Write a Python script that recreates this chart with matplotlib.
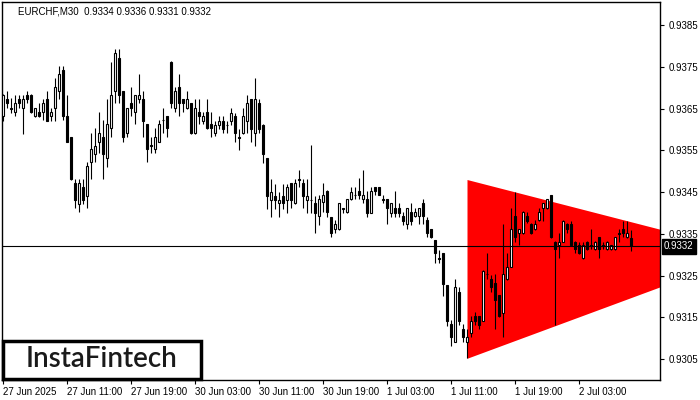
import matplotlib
matplotlib.use('Agg')
import matplotlib.pyplot as plt
import matplotlib.transforms as mtransforms
from matplotlib.patches import Rectangle
import numpy as np

title = 'EURCHF,M30  0.9334 0.9336 0.9331 0.9332'
last_price = 0.9332

opens = [0.93632, 0.93672, 0.93651, 0.93641, 0.93672, 0.93651, 0.93682, 0.93682, 0.93632, 0.93641,
         0.93641, 0.93672, 0.93631, 0.93651, 0.93692, 0.93742, 0.93632, 0.93581, 0.93471, 0.93421,
         0.93461, 0.93441, 0.93521, 0.93541, 0.93571, 0.93581, 0.93531, 0.93603, 0.93692, 0.93770,
         0.93692, 0.93591, 0.93663, 0.93641, 0.93672, 0.93672, 0.93612, 0.93562, 0.93552, 0.93571,
         0.93623, 0.93632, 0.93762, 0.93651, 0.93702, 0.93672, 0.93651, 0.93663, 0.93591, 0.93641,
         0.93621, 0.93641, 0.93612, 0.93591, 0.93611, 0.93620, 0.93611, 0.93620, 0.93631, 0.93581,
         0.93591, 0.93620, 0.93672, 0.93591, 0.93663, 0.93611, 0.93531, 0.93431, 0.93441, 0.93423,
         0.93441, 0.93431, 0.93471, 0.93423, 0.93481, 0.93471, 0.93431, 0.93431, 0.93423, 0.93393,
         0.93425, 0.93453, 0.93390, 0.93361, 0.93361, 0.93411, 0.93403, 0.93433, 0.93443, 0.93453,
         0.93433, 0.93433, 0.93401, 0.93461, 0.93461, 0.93433, 0.93433, 0.93401, 0.93411, 0.93411,
         0.93393, 0.93373, 0.93403, 0.93393, 0.93393, 0.93423, 0.93383, 0.93361, 0.93334, 0.93291,
         0.93303, 0.93227, 0.93134, 0.93092, 0.93211, 0.93121, 0.93092, 0.93112, 0.93153, 0.93153,
         0.93142, 0.93254, 0.93241, 0.93233, 0.93203, 0.93161, 0.93241, 0.93271, 0.93393, 0.93351,
         0.93351, 0.93393, 0.93374, 0.93361, 0.93383, 0.93411, 0.93411, 0.93443, 0.93331, 0.93323,
         0.93331, 0.93374, 0.93374, 0.93331, 0.93323, 0.93291, 0.93331, 0.93323, 0.93313, 0.93342,
         0.93323, 0.93313, 0.93313, 0.93313, 0.93351, 0.93361, 0.93342, 0.93340]
highs = [0.93685, 0.93692, 0.93675, 0.93682, 0.93682, 0.93682, 0.93692, 0.93684, 0.93652, 0.93663,
         0.93672, 0.93692, 0.93651, 0.93722, 0.93752, 0.93752, 0.93682, 0.93582, 0.93481, 0.93481,
         0.93481, 0.93523, 0.93591, 0.93603, 0.93642, 0.93623, 0.93672, 0.93762, 0.93792, 0.93792,
         0.93693, 0.93652, 0.93702, 0.93683, 0.93733, 0.93692, 0.93613, 0.93581, 0.93603, 0.93623,
         0.93651, 0.93633, 0.93763, 0.93702, 0.93733, 0.93673, 0.93692, 0.93664, 0.93672, 0.93672,
         0.93641, 0.93672, 0.93641, 0.93620, 0.93631, 0.93631, 0.93620, 0.93651, 0.93640, 0.93600,
         0.93651, 0.93682, 0.93673, 0.93722, 0.93672, 0.93612, 0.93532, 0.93481, 0.93469, 0.93451,
         0.93469, 0.93469, 0.93472, 0.93481, 0.93503, 0.93481, 0.93481, 0.93563, 0.93441, 0.93443,
         0.93472, 0.93454, 0.93391, 0.93383, 0.93424, 0.93412, 0.93434, 0.93463, 0.93463, 0.93483,
         0.93503, 0.93453, 0.93463, 0.93462, 0.93462, 0.93443, 0.93434, 0.93424, 0.93453, 0.93423,
         0.93403, 0.93412, 0.93423, 0.93411, 0.93412, 0.93433, 0.93391, 0.93362, 0.93335, 0.93311,
         0.93304, 0.93228, 0.93144, 0.93241, 0.93223, 0.93134, 0.93121, 0.93153, 0.93163, 0.93154,
         0.93263, 0.93303, 0.93251, 0.93254, 0.93204, 0.93374, 0.93303, 0.93411, 0.93451, 0.93362,
         0.93404, 0.93403, 0.93375, 0.93383, 0.93411, 0.93424, 0.93434, 0.93444, 0.93332, 0.93351,
         0.93382, 0.93375, 0.93381, 0.93332, 0.93331, 0.93331, 0.93332, 0.93361, 0.93332, 0.93343,
         0.93331, 0.93332, 0.93324, 0.93343, 0.93361, 0.93381, 0.93381, 0.93360]
lows = [0.93620, 0.93651, 0.93639, 0.93631, 0.93651, 0.93589, 0.93663, 0.93640, 0.93630, 0.93630,
        0.93623, 0.93620, 0.93621, 0.93621, 0.93672, 0.93623, 0.93570, 0.93480, 0.93411, 0.93402,
        0.93421, 0.93411, 0.93481, 0.93521, 0.93543, 0.93481, 0.93511, 0.93581, 0.93663, 0.93663,
        0.93571, 0.93581, 0.93631, 0.93612, 0.93663, 0.93581, 0.93521, 0.93543, 0.93543, 0.93570,
        0.93591, 0.93581, 0.93651, 0.93641, 0.93631, 0.93641, 0.93650, 0.93590, 0.93590, 0.93612,
        0.93612, 0.93602, 0.93581, 0.93583, 0.93600, 0.93591, 0.93591, 0.93611, 0.93571, 0.93551,
        0.93590, 0.93591, 0.93571, 0.93560, 0.93591, 0.93520, 0.93409, 0.93391, 0.93409, 0.93391,
        0.93409, 0.93401, 0.93411, 0.93422, 0.93461, 0.93411, 0.93401, 0.93401, 0.93351, 0.93371,
        0.93403, 0.93391, 0.93342, 0.93351, 0.93360, 0.93401, 0.93401, 0.93432, 0.93433, 0.93433,
        0.93423, 0.93391, 0.93400, 0.93443, 0.93442, 0.93423, 0.93373, 0.93391, 0.93391, 0.93391,
        0.93371, 0.93361, 0.93371, 0.93391, 0.93373, 0.93373, 0.93342, 0.93339, 0.93281, 0.93281,
        0.93201, 0.93129, 0.93081, 0.93091, 0.93132, 0.93092, 0.93052, 0.93102, 0.93132, 0.93121,
        0.93141, 0.93243, 0.93211, 0.93121, 0.93151, 0.93102, 0.93240, 0.93270, 0.93331, 0.93323,
        0.93350, 0.93375, 0.93350, 0.93360, 0.93381, 0.93381, 0.93410, 0.93341, 0.93132, 0.93291,
        0.93330, 0.93351, 0.93322, 0.93303, 0.93302, 0.93290, 0.93312, 0.93313, 0.93312, 0.93291,
        0.93313, 0.93312, 0.93312, 0.93312, 0.93331, 0.93342, 0.93341, 0.93310]
closes = [0.93682, 0.93663, 0.93650, 0.93663, 0.93663, 0.93672, 0.93672, 0.93641, 0.93651, 0.93632,
          0.93663, 0.93621, 0.93641, 0.93702, 0.93732, 0.93632, 0.93571, 0.93481, 0.93431, 0.93471,
          0.93431, 0.93512, 0.93552, 0.93561, 0.93591, 0.93541, 0.93612, 0.93682, 0.93782, 0.93682,
          0.93581, 0.93651, 0.93651, 0.93682, 0.93682, 0.93621, 0.93552, 0.93560, 0.93581, 0.93612,
          0.93622, 0.93603, 0.93663, 0.93692, 0.93663, 0.93663, 0.93672, 0.93591, 0.93651, 0.93631,
          0.93632, 0.93603, 0.93603, 0.93611, 0.93620, 0.93600, 0.93610, 0.93640, 0.93591, 0.93580,
          0.93631, 0.93663, 0.93600, 0.93672, 0.93600, 0.93540, 0.93441, 0.93451, 0.93431, 0.93431,
          0.93423, 0.93461, 0.93431, 0.93471, 0.93480, 0.93441, 0.93441, 0.93430, 0.93401, 0.93433,
          0.93443, 0.93403, 0.93351, 0.93373, 0.93423, 0.93410, 0.93433, 0.93451, 0.93442, 0.93443,
          0.93443, 0.93401, 0.93453, 0.93453, 0.93443, 0.93432, 0.93411, 0.93423, 0.93401, 0.93401,
          0.93381, 0.93411, 0.93381, 0.93403, 0.93411, 0.93393, 0.93351, 0.93342, 0.93303, 0.93290,
          0.93231, 0.93141, 0.93102, 0.93223, 0.93142, 0.93102, 0.93102, 0.93142, 0.93142, 0.93132,
          0.93262, 0.93253, 0.93222, 0.93191, 0.93153, 0.93254, 0.93271, 0.93361, 0.93342, 0.93361,
          0.93403, 0.93381, 0.93351, 0.93374, 0.93403, 0.93423, 0.93433, 0.93342, 0.93313, 0.93331,
          0.93381, 0.93361, 0.93323, 0.93313, 0.93303, 0.93323, 0.93313, 0.93322, 0.93331, 0.93313,
          0.93322, 0.93331, 0.93323, 0.93342, 0.93350, 0.93351, 0.93351, 0.93320]

xtick_pos = [0, 16, 32, 48, 64, 80, 96, 112, 128, 144]
xtick_labels = ['27 Jun 2025', '27 Jun 11:00', '27 Jun 19:00', '30 Jun 03:00', '30 Jun 11:00',
                '30 Jun 19:00', '1 Jul 03:00', '1 Jul 11:00', '1 Jul 19:00', '2 Jul 03:00']
ytick_vals = [0.9305, 0.9315, 0.9325, 0.9335, 0.9345, 0.9355, 0.9365, 0.9375, 0.9385]

# symmetrical triangle pattern
tri_x = [116, 164.25]
tri_top = [0.93480, 0.93361]
tri_bottom = [0.93052, 0.93223]

o = np.array(opens); h = np.array(highs); l = np.array(lows); c = np.array(closes)
idx = np.arange(len(o))

fig = plt.figure(figsize=(7, 4), dpi=100)
ax = fig.add_axes([2/700, 20/400, 658/700, 378/400])
ax.set_xlim(-0.25, 164.25)
ax.set_ylim(0.9300, 0.93905)

ax.fill_between(tri_x, tri_bottom, tri_top, color='#ff0000', lw=0, zorder=1)

ax.vlines(idx, l, h, color='black', lw=0.8, zorder=3)
up = c >= o
bb = np.minimum(o, c)
bh = np.abs(c - o)
ax.bar(idx[up], bh[up], bottom=bb[up], width=0.72, color='white', edgecolor='black', lw=0.8, zorder=4)
ax.bar(idx[~up], bh[~up], bottom=bb[~up], width=0.72, color='black', edgecolor='black', lw=0.8, zorder=4)

ax.axhline(last_price, color='black', lw=0.8, zorder=5)

for s in ax.spines.values():
    s.set_color('black'); s.set_linewidth(1.0)

ax.yaxis.tick_right()
ax.set_yticks(ytick_vals)
ax.set_yticklabels([f'{v:.4f}' for v in ytick_vals], fontsize=7, family='Liberation Sans')
ax.set_xticks(xtick_pos)
ax.set_xticklabels(xtick_labels, fontsize=7, family='Liberation Sans', ha='left')
ax.tick_params(axis='y', length=3, width=0.8, pad=3, colors='black')
ax.tick_params(axis='x', length=3, width=0.8, pad=2, colors='black')
for lab in ax.get_xticklabels():
    lab.set_horizontalalignment('left')

trans = mtransforms.blended_transform_factory(ax.transAxes, ax.transData)
ax.text(1.006, last_price, f'{last_price:.4f}', transform=trans, color='white', fontsize=7,
        family='Liberation Sans', va='center', ha='left', clip_on=False, zorder=10,
        bbox=dict(facecolor='black', edgecolor='black', boxstyle='square,pad=0.25'))

fig.text(18/700, 1 - 11/400, title, fontsize=7, family='Liberation Sans', va='center', ha='left')

fig.patches.append(Rectangle((3/700, 1 - 379/400), 198/700, 38/400, transform=fig.transFigure,
                             facecolor='white', edgecolor='black', lw=2.5, zorder=20))
fig.text(102/700, 1 - 359/400, 'InstaFintech', fontsize=20, family='Lato', weight='semibold',
         color='#1a1a1a', ha='center', va='center', zorder=21)

fig.savefig('out.png', dpi=100)
